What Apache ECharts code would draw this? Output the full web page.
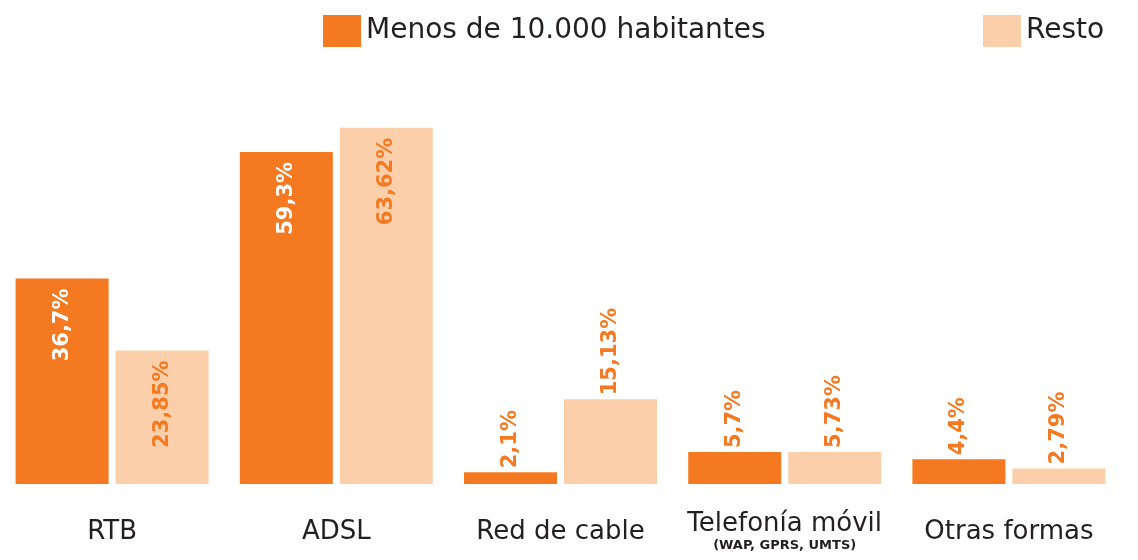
<!DOCTYPE html>
<html>
<head>
<meta charset="utf-8">
<script src="https://cdn.jsdelivr.net/npm/echarts@6/dist/echarts.min.js"></script>
<style>
  html, body { margin: 0; padding: 0; background: #fff; }
  #chart { width: 1138px; height: 560px; }
</style>
</head>
<body>
<div id="chart"></div>
<script>
var categories = ['RTB', 'ADSL', 'Red de cable', 'Telefonía móvil', 'Otras formas'];
var seriesNames = ['Menos de 10.000 habitantes', 'Resto'];
var menos = [36.7, 59.3, 2.1, 5.7, 4.4];
var resto = [23.85, 63.62, 15.13, 5.73, 2.79];

// colores
var dark = '#F47920';
var light = '#FCCFAB';
var ink = '#231f20';

function fmt(v) {
    return String(v).replace('.', ',') + '%';
}

// etiquetas dentro de la barra si es alta, encima si es baja
function buildData(values, insideColor) {
    return values.map(function (v) {
        var inside = v > 20;
        return {
            value: v,
            label: inside ? {
                position: 'insideTop',
                distance: 10,
                rotate: 90,
                align: 'right',
                verticalAlign: 'middle',
                color: insideColor
            } : {
                position: 'top',
                distance: 4,
                rotate: 90,
                align: 'left',
                verticalAlign: 'middle',
                color: dark
            }
        };
    });
}

var chart = echarts.init(document.getElementById('chart'));

var labelBase = {
    show: true,
    fontFamily: 'DejaVu Sans',
    fontWeight: 'bold',
    fontSize: 21,
    formatter: function (p) { return fmt(p.value); }
};

var legendBase = {
    top: 10,
    itemWidth: 38,
    itemHeight: 32,
    icon: 'rect',
    textStyle: { fontFamily: 'DejaVu Sans', fontSize: 28, color: ink }
};

var option = {
    animation: false,
    legend: [
        Object.assign({ left: 318, data: [seriesNames[0]] }, legendBase),
        Object.assign({ left: 978, data: [seriesNames[1]] }, legendBase)
    ],
    grid: { left: -4, right: 17, top: 92, bottom: 76 },
    xAxis: {
        type: 'category',
        data: categories,
        axisLine: { show: false },
        axisTick: { show: false },
        axisLabel: {
            margin: 48,
            verticalAlign: 'middle',
            interval: 0,
            color: ink,
            fontFamily: 'DejaVu Sans',
            fontSize: 26,
            formatter: function (v) {
                if (v === 'Telefonía móvil') {
                    return '{a|' + v + '}\n{b|(WAP, GPRS, UMTS)}';
                }
                return v;
            },
            rich: {
                a: { fontFamily: 'DejaVu Sans', fontSize: 26, color: ink, lineHeight: 28 },
                b: { fontFamily: 'DejaVu Sans', fontSize: 13, fontWeight: 'bold', color: ink, lineHeight: 15 }
            }
        }
    },
    yAxis: {
        type: 'value',
        min: 0,
        max: 70,
        show: false,
        splitLine: { show: false }
    },
    series: [{
        name: seriesNames[0],
        type: 'bar',
        barWidth: 93,
        barGap: '7.5%',
        itemStyle: { color: dark },
        label: labelBase,
        data: buildData(menos, '#ffffff')
    }, {
        name: seriesNames[1],
        type: 'bar',
        barWidth: 93,
        barGap: '7.5%',
        itemStyle: { color: light },
        label: labelBase,
        data: buildData(resto, dark)
    }]
};

chart.setOption(option);
</script>
</body>
</html>
